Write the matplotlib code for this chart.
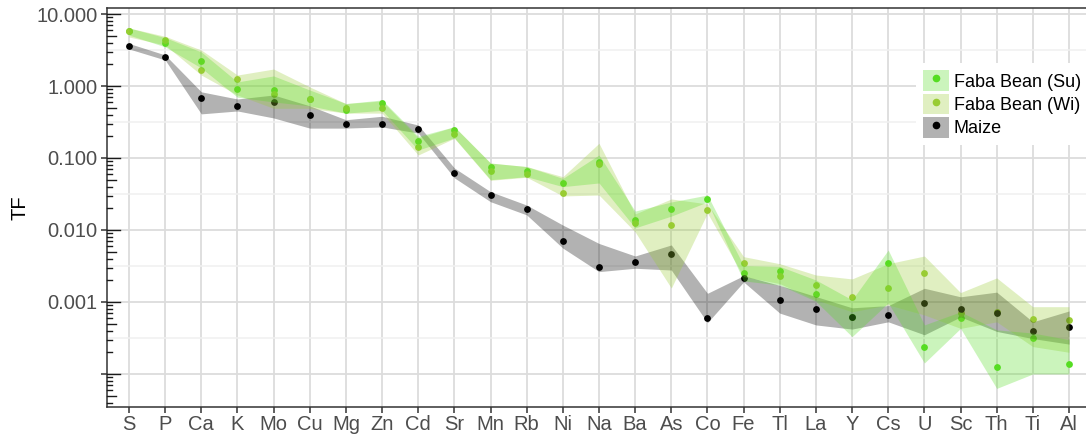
import numpy as np
import matplotlib.pyplot as plt
from matplotlib.patches import Patch
from matplotlib.lines import Line2D
from matplotlib.ticker import FixedLocator, NullFormatter

plt.rcParams['font.family'] = ['Liberation Sans', 'DejaVu Sans']

elements = ['S', 'P', 'Ca', 'K', 'Mo', 'Cu', 'Mg', 'Zn', 'Cd', 'Sr', 'Mn', 'Rb', 'Ni', 'Na',
            'Ba', 'As', 'Co', 'Fe', 'Tl', 'La', 'Y', 'Cs', 'U', 'Sc', 'Th', 'Ti', 'Al']

# Faba Bean (Su)
su_tf = [5.9, 4.0, 2.26, 0.91, 0.88, 0.67, 0.46, 0.575, 0.172, 0.245, 0.074, 0.067, 0.045, 0.087,
         0.0138, 0.0196, 0.0272, 0.0025, 0.00272, 0.00129, 0.00061, 0.0035, 0.00024, 0.00059,
         0.000126, 0.00032, 0.000136]
su_lo = [5.1, 3.5, 1.78, 0.70, 0.60, 0.53, 0.42, 0.46, 0.129, 0.19, 0.05, 0.055, 0.04, 0.045,
         0.0107, 0.0156, 0.0245, 0.00196, 0.00172, 0.00102, 0.00033, 0.00097, 0.000142, 0.00043,
         0.000063, 0.0001, 0.0001]
su_hi = [6.4, 4.7, 2.97, 1.14, 1.38, 0.88, 0.57, 0.64, 0.20, 0.272, 0.085, 0.076, 0.052, 0.11,
         0.0183, 0.0245, 0.0306, 0.0032, 0.00312, 0.00202, 0.00107, 0.00527, 0.00048, 0.00073,
         0.00041, 0.00037, 0.0003]

# Faba Bean (Wi)
wi_tf = [5.9, 4.35, 1.67, 1.26, 0.77, 0.67, 0.50, 0.50, 0.141, 0.213, 0.066, 0.060, 0.033, 0.082,
         0.0125, 0.0117, 0.019, 0.00352, 0.0023, 0.0017, 0.00119, 0.00158, 0.0025, 0.0007,
         0.00072, 0.00058, 0.00056]
wi_lo = [4.8, 3.7, 1.42, 0.75, 0.49, 0.49, 0.42, 0.42, 0.11, 0.188, 0.049, 0.054, 0.0297, 0.0306,
         0.0094, 0.00156, 0.0172, 0.00225, 0.0018, 0.00107, 0.00073, 0.00091, 0.00066, 0.00043,
         0.00053, 0.00024, 0.0002]
wi_hi = [6.4, 4.9, 3.16, 1.42, 1.72, 0.97, 0.57, 0.62, 0.19, 0.272, 0.085, 0.076, 0.055, 0.16,
         0.0167, 0.027, 0.023, 0.00426, 0.0034, 0.00237, 0.00209, 0.0034, 0.00435, 0.00135,
         0.00216, 0.00086, 0.00086]

# Maize
mz_tf = [3.6, 2.5, 0.69, 0.52, 0.60, 0.40, 0.30, 0.30, 0.253, 0.062, 0.0306, 0.0194, 0.0071, 0.00306,
         0.00356, 0.00464, 0.000605, 0.00215, 0.00107, 0.00079, 0.00061, 0.00066, 0.00096, 0.00079,
         0.0007, 0.000396, 0.00045]
mz_lo = [3.27, 2.3, 0.41, 0.45, 0.36, 0.26, 0.26, 0.27, 0.222, 0.053, 0.0247, 0.0162, 0.0056, 0.00264,
         0.00294, 0.00278, 0.000516, 0.0019, 0.0007, 0.00048, 0.00042, 0.00053, 0.00035, 0.00062,
         0.00039, 0.00031, 0.00026]
mz_hi = [3.9, 2.7, 0.83, 0.66, 0.75, 0.53, 0.34, 0.38, 0.287, 0.0726, 0.034, 0.0222, 0.0117, 0.0065,
         0.00435, 0.0062, 0.00132, 0.00232, 0.0017, 0.00119, 0.00083, 0.00089, 0.00155, 0.00118,
         0.00137, 0.00053, 0.00075]

ytick_vals = [10, 1, 0.1, 0.01, 0.001, 0.0001]
ytick_labels = ['10.000', '1.000', '0.100', '0.010', '0.001', '']

series = [
    ('Faba Bean (Su)', '#55dd22', su_tf, su_lo, su_hi),
    ('Faba Bean (Wi)', '#99cc33', wi_tf, wi_lo, wi_hi),
    ('Maize', '#000000', mz_tf, mz_lo, mz_hi),
]

fig = plt.figure(figsize=(10.86, 4.36), dpi=100)
ax = fig.add_axes([107.3 / 1086, 1 - 406.7 / 436, 1 - 107.3 / 1086, (406.7 - 8) / 436])
x = np.arange(len(elements))

# points first, ribbons drawn over them
for name, col, tf, lo, hi in series:
    ax.scatter(x, tf, s=24, color=col, zorder=2, linewidths=0)
for name, col, tf, lo, hi in series[::-1]:
    ax.fill_between(x, lo, hi, color=col, alpha=0.3, linewidth=0, zorder=3)

ax.set_yscale('log')
ax.set_ylim(3.51e-5, 12.12)
ax.set_xlim(-0.6, 26.47)
ax.set_xticks(x)
ax.set_xticklabels(elements)
ax.yaxis.set_major_locator(FixedLocator(ytick_vals))
ax.set_yticklabels(ytick_labels)
ax.yaxis.set_minor_locator(FixedLocator([10 ** (k + 0.5) for k in range(-5, 1)]))
ax.yaxis.set_minor_formatter(NullFormatter())
ax.tick_params(axis='y', which='minor', length=0)
ax.tick_params(axis='both', which='major', direction='out', length=4, width=1.1,
               color='#333333', labelcolor='#4d4d4d', labelsize=14.5)
ax.tick_params(axis='y', pad=3)
ax.tick_params(axis='x', pad=2)

ax.grid(True, which='major', color='#dcdcdc', linewidth=1.3, zorder=0)
ax.grid(True, which='minor', axis='y', color='#f0f0f0', linewidth=1.1, zorder=0)
ax.set_axisbelow(True)

for s in ['left', 'bottom', 'top']:
    ax.spines[s].set_color('#333333')
    ax.spines[s].set_linewidth(1.1)
ax.spines['right'].set_visible(False)

# log ticks inside the left axis
axw = fig.get_size_inches()[0] * fig.dpi * ax.get_position().width
ytr = ax.get_yaxis_transform()
for k in range(-5, 2):
    for m in range(1, 10):
        v = m * 10.0 ** k
        if v < 3.51e-5 or v > 12.12:
            continue
        L = 13 if m == 1 else (9 if m == 5 else 5)
        ax.plot([0, L / axw], [v, v], color='#1a1a1a', linewidth=1.0, transform=ytr,
                clip_on=False, zorder=4)

ax.set_ylabel('TF', fontsize=14.5, color='black', labelpad=5)

handles = []
for name, col, tf, lo, hi in series:
    patch = Patch(facecolor=col, alpha=0.3, edgecolor='none')
    dot = Line2D([], [], marker='o', linestyle='none', color=col, markersize=4.5)
    handles.append((patch, dot))
leg = ax.legend(handles, [s[0] for s in series], loc='upper left',
                bbox_to_anchor=(916 / 1086, 1 - 63 / 436), bbox_transform=fig.transFigure,
                frameon=True, fancybox=False, edgecolor='none', facecolor='white', framealpha=1,
                fontsize=13, handlelength=1.4, handleheight=1.4, labelspacing=0.14,
                handletextpad=0.3, borderpad=0.4, borderaxespad=0)
leg.set_zorder(5)

fig.savefig('out.png', dpi=100)
